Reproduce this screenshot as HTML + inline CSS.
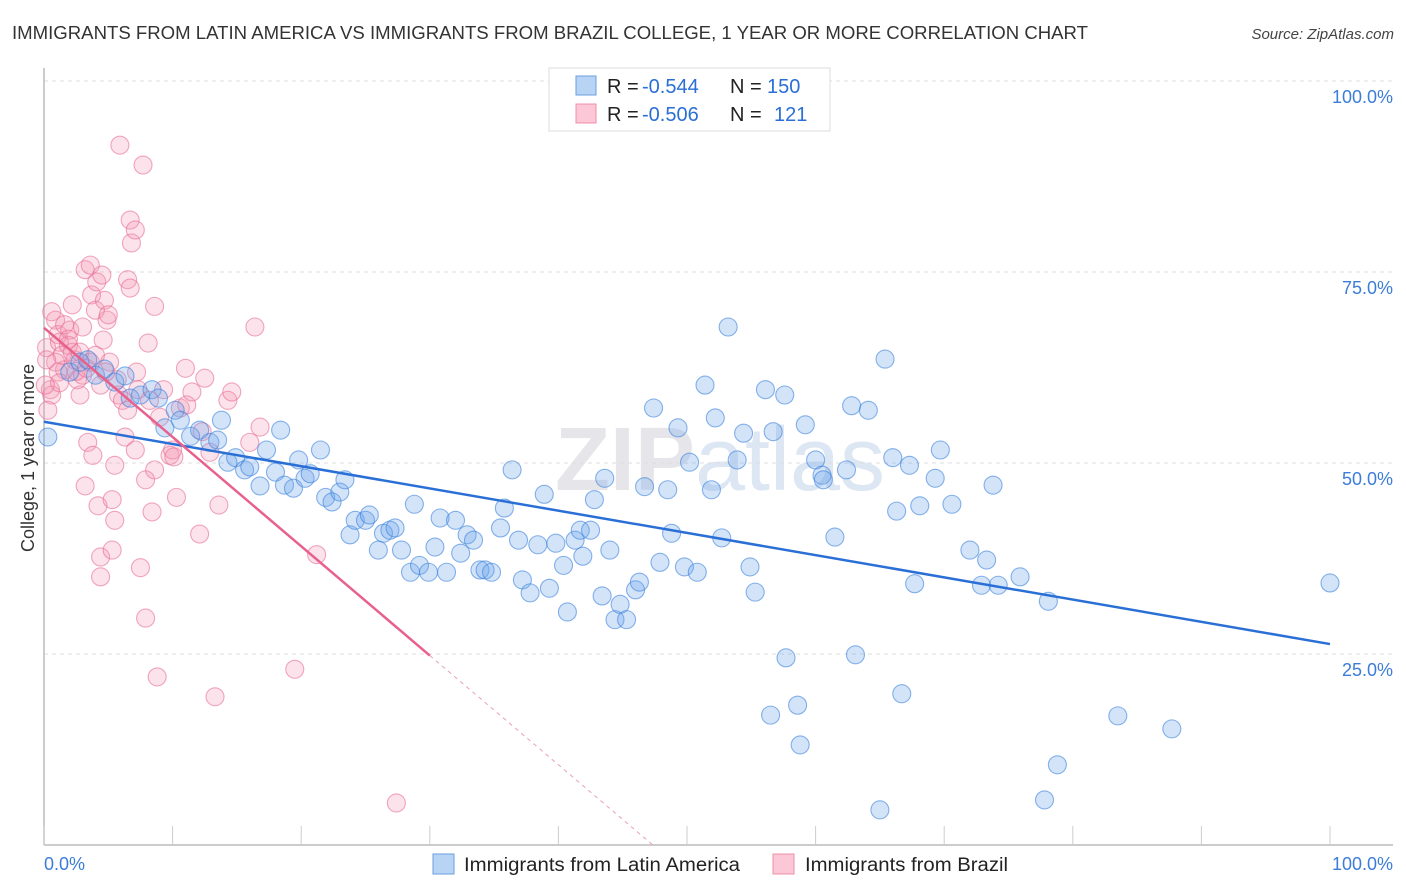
<!DOCTYPE html>
<html><head><meta charset="utf-8">
<style>
body{margin:0;background:#fff;font-family:"Liberation Sans",sans-serif;}
#wrap{position:relative;width:1406px;height:892px;overflow:hidden;}
svg text{font-family:"Liberation Sans",sans-serif;}
</style></head>
<body>
<div id="wrap">
<svg id="svg" width="1406" height="892" xmlns="http://www.w3.org/2000/svg">
<text x="12" y="39" font-size="18" fill="#333" textLength="1076" lengthAdjust="spacingAndGlyphs">IMMIGRANTS FROM LATIN AMERICA VS IMMIGRANTS FROM BRAZIL COLLEGE, 1 YEAR OR MORE CORRELATION CHART</text>
<text x="1394" y="39" font-size="15" fill="#444" font-style="italic" text-anchor="end">Source: ZipAtlas.com</text>
<text x="34" y="458" font-size="18" fill="#333" text-anchor="middle" transform="rotate(-90 34 458)">College, 1 year or more</text>
<text x="720" y="490" font-size="90" fill="#e6e6ea" font-weight="bold" text-anchor="middle">ZIP<tspan fill="#dde6f3" font-weight="normal">atlas</tspan></text>
<g id="grid"></g>
<g id="pts"></g>
<g id="trend"></g>
<g id="legend">
<rect x="549" y="68" width="281" height="63" fill="#fff" stroke="#ddd"/>
<rect x="576" y="76" width="20" height="19" fill="#b8d4f5" stroke="#6a9ee0"/>
<rect x="576" y="104" width="20" height="19" fill="#fcc7d6" stroke="#ec8fab"/>
<text x="607" y="93" font-size="20" fill="#222">R = <tspan fill="#2a6fd6" x="642">-0.544</tspan><tspan x="730">N = </tspan><tspan fill="#2a6fd6" x="767">150</tspan></text>
<text x="607" y="121" font-size="20" fill="#222">R = <tspan fill="#2a6fd6" x="642">-0.506</tspan><tspan x="730">N = </tspan><tspan fill="#2a6fd6" x="774">121</tspan></text>
</g>
<g>
<rect x="433" y="854" width="21" height="20" fill="#b8d4f5" stroke="#6a9ee0"/>
<text x="464" y="871" font-size="19" fill="#222" textLength="276" lengthAdjust="spacingAndGlyphs">Immigrants from Latin America</text>
<rect x="773" y="854" width="21" height="20" fill="#fcc7d6" stroke="#ec8fab"/>
<text x="805" y="871" font-size="19" fill="#222" textLength="203" lengthAdjust="spacingAndGlyphs">Immigrants from Brazil</text>
</g>
</svg>
</div>
<script>
const yTicks=[100,75,50,25];
const yTickLabels=["100.0%","75.0%","50.0%","25.0%"];
const xTickLabels=["0.0%","100.0%"];
const blueX=[0.3,2.0,2.8,3.4,4.0,4.7,5.5,6.3,6.7,7.5,8.4,8.9,9.4,10.2,10.6,11.4,12.1,12.9,13.8,13.5,14.3,14.9,15.6,16.0,16.8,17.3,18.0,18.4,18.7,19.4,19.8,20.3,20.7,21.5,21.9,22.4,23.0,23.4,23.8,24.2,25.0,25.3,26.0,26.4,26.9,27.3,27.8,28.5,28.8,29.2,29.9,30.4,30.8,31.3,32.0,32.4,32.9,33.4,33.9,34.3,34.8,35.5,35.8,36.4,36.9,37.2,37.8,38.4,38.9,39.3,39.8,40.4,40.7,41.3,41.7,41.9,42.5,42.8,43.4,43.6,44.0,44.4,44.8,45.3,46.0,46.3,46.7,47.4,47.9,48.5,48.8,49.3,49.8,50.2,50.8,51.4,51.9,52.2,52.7,53.2,53.9,54.4,54.9,55.3,56.1,56.5,56.7,57.6,57.7,58.6,58.8,59.2,60.0,60.5,60.6,61.5,62.4,62.8,63.1,64.1,65.0,65.4,66.0,66.3,66.7,67.3,67.7,68.1,69.3,69.7,70.6,72.0,72.9,73.3,74.2,73.8,75.9,77.8,78.1,78.8,83.5,87.7,100];
const blueY=[53.4,61.9,63.2,63.5,61.5,62.3,60.6,61.4,58.5,58.9,59.6,58.5,54.6,56.9,55.6,53.5,54.3,52.7,55.6,53.0,50.1,50.7,49.1,49.5,47.0,51.7,48.8,54.3,47.1,46.7,50.4,48.0,48.6,51.7,45.5,44.9,46.2,47.8,40.6,42.5,42.5,43.2,38.6,40.8,41.2,41.5,38.6,35.7,44.6,36.6,35.7,39.0,42.8,35.7,42.5,38.2,40.6,39.9,36.0,36.0,35.7,41.5,44.1,49.1,39.9,34.7,33.0,39.3,45.9,33.6,39.5,36.6,30.5,39.9,41.2,37.8,41.2,45.2,32.6,48.0,38.6,29.5,31.5,29.5,33.4,34.4,46.9,57.2,37.0,46.5,40.8,54.6,36.4,50.1,35.7,60.2,46.5,55.9,40.2,67.8,50.4,53.9,36.4,33.1,59.6,17.0,54.1,58.9,24.5,18.3,13.1,55.0,50.4,48.4,47.8,40.3,49.1,57.5,24.9,56.9,4.6,63.6,50.7,43.7,19.8,49.7,34.2,44.4,48.0,51.7,44.6,38.6,34.0,37.3,34.0,47.1,35.1,5.9,31.9,10.5,16.9,15.2,34.3];
const pinkX=[0.2,0.6,0.9,1.1,1.2,1.4,1.6,2.0,2.2,2.4,2.6,2.8,3.0,3.2,3.2,3.4,3.6,3.7,3.8,4.0,4.1,4.2,4.4,4.4,4.5,4.6,4.7,4.9,5.0,5.1,5.3,5.3,5.5,5.5,5.7,5.8,5.9,6.1,6.3,6.5,6.5,6.7,6.7,6.8,7.1,7.1,7.2,7.3,7.5,7.7,7.9,7.9,8.1,8.2,8.4,8.6,8.6,8.8,9.0,9.3,9.8,10.0,10.1,10.3,10.6,11.0,11.1,11.5,12.1,12.3,12.5,12.9,13.3,13.6,14.3,14.6,16.0,16.4,16.8,19.5,21.2,27.4,0.5,0.6,0.9,1.1,1.2,0.3,0.1,0.2,1.9,2.2,2.5,2.8,3.3,3.6,1.6,1.9,4.4,4.8,4.0,3.0];
const pinkY=[65.1,69.8,68.7,66.8,65.8,64.1,62.2,67.4,70.7,63.5,60.9,58.9,61.5,75.3,47.0,52.7,75.9,72.0,51.0,70.0,73.7,44.4,35.1,37.7,74.6,66.1,71.3,68.7,69.4,63.2,38.6,45.2,49.7,42.5,60.9,58.9,91.6,58.2,53.4,56.9,74.0,72.9,81.8,78.8,80.5,51.7,61.9,59.6,36.3,89.0,47.8,29.7,65.7,58.2,43.6,49.1,70.5,22.0,56.0,59.6,51.0,51.7,50.8,45.5,57.2,62.4,57.6,59.3,40.7,54.1,61.1,51.4,19.4,44.5,58.2,59.3,52.7,67.8,54.7,23.0,38.0,5.5,59.6,58.9,63.2,61.9,60.5,56.9,60.2,63.5,65.4,64.5,62.0,64.5,62.4,63.2,68.1,66.2,60.2,61.9,64.1,67.8];
const blueTrend=[55.4,26.3];   // y at x=0 and x=100
const pinkTrend=[67.7,-1.43];  // intercept, slope per %
const NS='http://www.w3.org/2000/svg';
const X0=44,X1=1330,Y0=845,Y1=81;
const sx=v=>X0+(X1-X0)*v/100;
const sy=v=>Y0-(Y0-Y1)*v/100;
function mk(tag,attrs,parent){const e=document.createElementNS(NS,tag);for(const k in attrs)e.setAttribute(k,attrs[k]);parent.appendChild(e);return e;}
const grid=document.getElementById('grid');
yTicks.forEach((t,i)=>{
  const l=mk('line',{x1:X0,x2:1393,y1:sy(t),y2:sy(t),stroke:'#ddd','stroke-dasharray':'4,4'},grid);
  
  
  const tx=mk('text',{x:1393,y:sy(t)+22,'font-size':18,fill:'#3b7dd8','text-anchor':'end'},grid);
  tx.textContent=yTickLabels[i];
  
  
});
const ax=mk('line',{x1:X0,x2:1393,y1:Y0,y2:Y0,stroke:'#bbb','stroke-width':1.5},grid);


const ay=mk('line',{x1:X0,x2:X0,y1:68,y2:Y0,stroke:'#bbb','stroke-width':1.5},grid);


for(let i=0;i<=10;i++){
  const t=mk('line',{x1:sx(i*10),x2:sx(i*10),y1:826,y2:Y0,stroke:'#ccc'},grid);
  
  
}
[[0,'start'],[100,'end']].forEach((p,i)=>{
  const tx=mk('text',{x:i?1393:44,y:870,'font-size':18,fill:'#3b7dd8','text-anchor':p[1]},grid);
  tx.textContent=xTickLabels[i];
  
  
});
const pts=document.getElementById('pts');
function dots(xs,ys,fill,stroke,name){
  xs.forEach((x,i)=>{
    const c=mk('circle',{cx:sx(x),cy:sy(ys[i]),r:9,fill:fill,stroke:stroke,'stroke-width':1.1},pts);
    
    
  });
}
dots(pinkX,pinkY,'rgba(244,150,178,0.28)','rgba(232,110,150,0.6)','point-brazil');
dots(blueX,blueY,'rgba(110,165,235,0.3)','rgba(60,130,220,0.6)','point-latin-america');
const tr=document.getElementById('trend');
const bl=mk('line',{x1:sx(0),y1:sy(blueTrend[0]),x2:sx(100),y2:sy(blueTrend[1]),stroke:'#2a6fd6','stroke-width':2.5},tr);


const pf=x=>pinkTrend[0]+pinkTrend[1]*x;
const xz=-pinkTrend[0]/pinkTrend[1];
const pl=mk('line',{x1:sx(0),y1:sy(pf(0)),x2:sx(30),y2:sy(pf(30)),stroke:'#e8608c','stroke-width':2.5},tr);


const pd=mk('line',{x1:sx(30),y1:sy(pf(30)),x2:sx(xz),y2:sy(0),stroke:'#e8a0b8','stroke-width':1,'stroke-dasharray':'4,4'},tr);


</script>
</body></html>
